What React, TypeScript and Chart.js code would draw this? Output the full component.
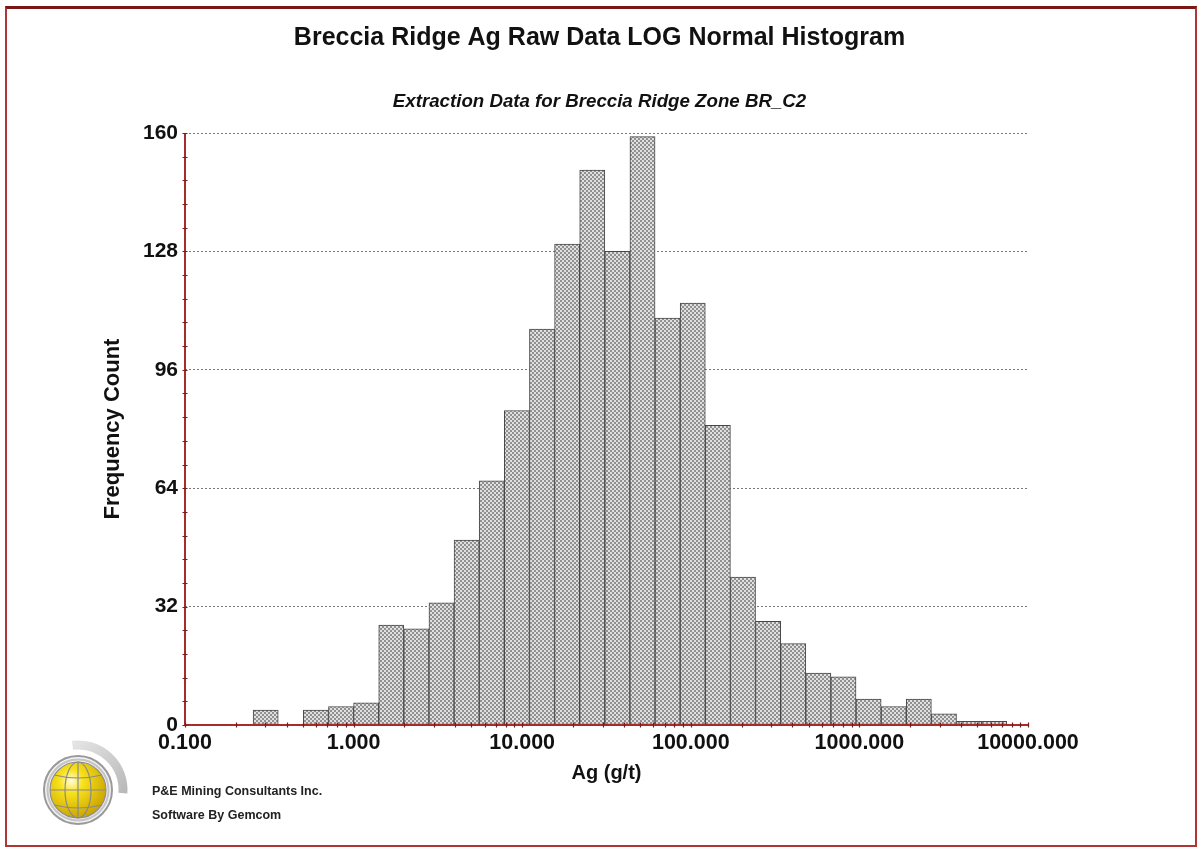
import React, { useEffect, useRef } from "react";
import { Chart, registerables } from "chart.js";

Chart.register(...registerables);

// Histogram bin boundaries (g/t), equal widths on a log10 axis
const binEdges = [
  0.2535, 0.3573, 0.5035, 0.7096, 1.0, 1.4093, 1.9861, 2.799, 3.9446, 5.559,
  7.8343, 11.041, 15.56, 21.928, 30.903, 43.551, 61.376, 86.497, 121.9, 171.79,
  242.1, 341.19, 480.84, 677.64, 954.99, 1345.9, 1896.7, 2673.0, 3767.0, 5308.8,
  7481.7,
];

// Sample count in each bin
const frequencies = [
  4, 0, 4, 5, 6, 27, 26, 33, 50, 66, 85, 107, 130, 150, 128, 159, 110, 114, 81,
  40, 28, 22, 14, 13, 7, 5, 7, 3, 1, 1,
];

const xTickValues = [0.1, 1, 10, 100, 1000, 10000];
const yTickValues = [0, 32, 64, 96, 128, 160];

const chartTitle = "Breccia Ridge Ag Raw Data LOG Normal Histogram";
const chartSubtitle = "Extraction Data for Breccia Ridge Zone BR_C2";
const xAxisTitle = "Ag (g/t)";
const yAxisTitle = "Frequency Count";
const footerLines = ["P&E Mining Consultants Inc.", "Software By Gemcom"];

const FONT = "'Liberation Sans', Arial, Helvetica, sans-serif";
const AXIS_RED = "#a52c2c";
const TICK_RED = "#7c1b1b";

function makeHatch(): CanvasPattern | string {
  const c = document.createElement("canvas");
  c.width = 4;
  c.height = 4;
  const g = c.getContext("2d");
  if (!g) return "#c0c0c0";
  g.fillStyle = "#e0e0e0";
  g.fillRect(0, 0, 4, 4);
  g.fillStyle = "#909090";
  g.fillRect(0, 0, 2, 2);
  g.fillRect(2, 2, 2, 2);
  return g.createPattern(c, "repeat") || "#c0c0c0";
}

// Red axis lines with small minor tick marks, drawn on top of the bars
const redAxesPlugin = {
  id: "redAxes",
  afterDraw(chart: any) {
    const { ctx, chartArea: a, scales } = chart;
    const x = scales.x;
    const y = scales.y;
    ctx.save();
    ctx.strokeStyle = AXIS_RED;
    ctx.lineWidth = 2;
    ctx.beginPath();
    ctx.moveTo(a.left, a.top);
    ctx.lineTo(a.left, a.bottom);
    ctx.lineTo(a.right, a.bottom);
    ctx.stroke();

    ctx.strokeStyle = TICK_RED;
    ctx.lineWidth = 1.2;
    ctx.beginPath();
    for (let i = 0; i <= 25; i++) {
      const py = Math.round(y.getPixelForValue(i * 6.4)) + 0.5;
      ctx.moveTo(a.left - 2.5, py);
      ctx.lineTo(a.left + 2.5, py);
    }
    for (let d = 0; d < xTickValues.length; d++) {
      const base = xTickValues[d];
      const last = d === xTickValues.length - 1 ? 1 : 9;
      for (let m = 1; m <= last; m++) {
        const px = Math.round(x.getPixelForValue(base * m)) + 0.5;
        ctx.moveTo(px, a.bottom - 2.5);
        ctx.lineTo(px, a.bottom + 2.5);
      }
    }
    ctx.stroke();
    ctx.restore();
  },
};

function Logo() {
  return (
    <svg
      width={120}
      height={120}
      style={{ position: "absolute", left: 18, top: 730 }}
    >
      <defs>
        <radialGradient id="globeFill" cx="38%" cy="34%" r="70%">
          <stop offset="0%" stopColor="#fffce0" />
          <stop offset="30%" stopColor="#f8e21c" />
          <stop offset="100%" stopColor="#c9a200" />
        </radialGradient>
        <linearGradient id="arcFill" x1="0" y1="0" x2="1" y2="1">
          <stop offset="0%" stopColor="#e4e4e4" />
          <stop offset="100%" stopColor="#b9b9b9" />
        </linearGradient>
      </defs>
      <path
        d="M 54.5 15.3 A 45 45 0 0 1 104.9 63.1"
        fill="none"
        stroke="url(#arcFill)"
        strokeWidth={9}
      />
      <circle cx={60} cy={60} r={34} fill="#f2f2f2" stroke="#9a9a9a" strokeWidth={2} />
      <circle cx={60} cy={60} r={30.5} fill="none" stroke="#c4c4c4" strokeWidth={2} />
      <circle cx={60} cy={60} r={28} fill="url(#globeFill)" stroke="#8e8e8e" strokeWidth={1.2} />
      <ellipse cx={60} cy={60} rx={13} ry={28} fill="none" stroke="#8a8a8a" strokeWidth={1.2} />
      <line x1={60} y1={32} x2={60} y2={88} stroke="#8a8a8a" strokeWidth={1.2} />
      <line x1={32} y1={60} x2={88} y2={60} stroke="#8a8a8a" strokeWidth={1.2} />
      <path d="M 36 45 Q 60 51 84 45" fill="none" stroke="#8a8a8a" strokeWidth={1.2} />
      <path d="M 36 75 Q 60 81 84 75" fill="none" stroke="#8a8a8a" strokeWidth={1.2} />
    </svg>
  );
}

export default function App() {
  const canvasRef = useRef<HTMLCanvasElement | null>(null);

  useEffect(() => {
    const canvas = canvasRef.current;
    if (!canvas) return;
    const hatch = makeHatch();
    const points = frequencies.map((f, i) => ({
      x: Math.sqrt(binEdges[i] * binEdges[i + 1]),
      y: f,
    }));

    const chart = new Chart(canvas, {
      type: "bar",
      data: {
        datasets: [
          {
            data: points as any,
            backgroundColor: hatch as any,
            borderColor: "#484848",
            borderWidth: 1,
            borderSkipped: false,
            barPercentage: 1,
            categoryPercentage: 1,
          },
        ],
      },
      options: {
        responsive: false,
        animation: false,
        layout: { padding: 0 },
        plugins: {
          legend: { display: false },
          tooltip: { enabled: false },
          title: {
            display: true,
            text: chartTitle,
            color: "#111",
            font: { family: FONT, size: 25, weight: "bold" },
            padding: { top: 23, bottom: 38 },
          },
          subtitle: {
            display: true,
            text: chartSubtitle,
            color: "#111",
            font: { family: FONT, size: 18.7, weight: "bold", style: "italic" },
            padding: { top: 0, bottom: 19.56 },
          },
        },
        scales: {
          x: {
            type: "logarithmic",
            min: 0.1,
            max: 10000,
            afterBuildTicks: (s: any) => {
              s.ticks = xTickValues.map((v) => ({ value: v }));
            },
            afterFit: (s: any) => {
              s.height = 125;
            },
            grid: { display: false, drawTicks: false },
            border: { display: false },
            ticks: {
              autoSkip: false,
              maxRotation: 0,
              padding: 5,
              color: "#111",
              font: { family: FONT, size: 21.5, weight: "bold" },
              callback: (v: any) => Number(v).toFixed(3),
            },
            title: {
              display: true,
              text: xAxisTitle,
              color: "#111",
              font: { family: FONT, size: 20, weight: "bold" },
              padding: { top: 0, bottom: 65 },
            },
          },
          y: {
            type: "linear",
            min: 0,
            max: 160,
            z: 1,
            afterBuildTicks: (s: any) => {
              s.ticks = yTickValues.map((v) => ({ value: v }));
            },
            afterFit: (s: any) => {
              s.width = 185;
            },
            grid: { color: "#7a7a7a", lineWidth: 1, drawTicks: false },
            border: { display: false, dash: [2, 2] },
            ticks: {
              padding: 7,
              color: "#111",
              font: { family: FONT, size: 21, weight: "bold" },
            },
            title: {
              display: true,
              text: yAxisTitle,
              color: "#111",
              font: { family: FONT, size: 22, weight: "bold" },
              padding: { top: 99.8, bottom: 0 },
            },
          },
          // empty right-hand margin so the plot ends where the axis does
          rightMargin: {
            type: "linear",
            position: "right",
            display: true,
            afterFit: (s: any) => {
              s.width = 171;
            },
            grid: { display: false, drawTicks: false },
            border: { display: false },
            ticks: { display: false },
          },
        },
      } as any,
      plugins: [redAxesPlugin],
    });

    return () => chart.destroy();
  }, []);

  return (
    <div
      style={{
        position: "absolute",
        left: 0,
        top: 0,
        width: 1199,
        height: 850,
        background: "#ffffff",
        overflow: "hidden",
      }}
    >
      <canvas
        ref={canvasRef}
        width={1199}
        height={850}
        style={{ position: "absolute", left: 0, top: 0, width: 1199, height: 850 }}
      />
      <Logo />
      {footerLines.map((t, i) => (
        <div
          key={t}
          style={{
            position: "absolute",
            left: 152,
            top: 784 + i * 24,
            lineHeight: "16px",
            font: `bold 12.5px ${FONT}`,
            color: "#222",
            whiteSpace: "nowrap",
          }}
        >
          {t}
        </div>
      ))}
      <div
        style={{
          position: "absolute",
          left: 5,
          top: 6,
          width: 1192,
          height: 841,
          boxSizing: "border-box",
          borderLeft: "2px solid #b03535",
          borderRight: "2px solid #b03535",
          borderBottom: "2px solid #b03535",
          borderTop: "3px solid #7a1616",
          pointerEvents: "none",
        }}
      />
    </div>
  );
}
